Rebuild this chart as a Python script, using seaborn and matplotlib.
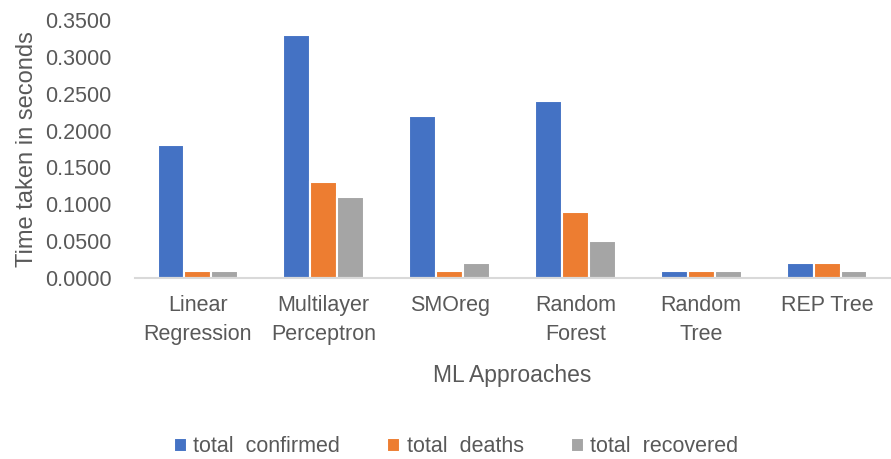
import pandas as pd
import matplotlib.pyplot as plt
import seaborn as sns

# data
methods = ["Linear\nRegression", "Multilayer\nPerceptron", "SMOreg",
           "Random\nForest", "Random\nTree", "REP Tree"]
series = ["total  confirmed", "total  deaths", "total  recovered"]
confirmed = [0.18, 0.33, 0.22, 0.24, 0.01, 0.02]
deaths = [0.01, 0.13, 0.01, 0.09, 0.01, 0.02]
recovered = [0.01, 0.11, 0.02, 0.05, 0.01, 0.01]

df = pd.DataFrame({
    "method": methods * 3,
    "series": [series[0]] * 6 + [series[1]] * 6 + [series[2]] * 6,
    "time": confirmed + deaths + recovered,
})

sns.set_style("white")
plt.rcParams["font.family"] = ["Liberation Sans", "DejaVu Sans"]

fig = plt.figure(figsize=(8.91, 4.59), dpi=100)
ax = fig.add_axes([135 / 891, 1 - 278 / 459, 755 / 891, 258 / 459])

palette = ["#4472C4", "#ED7D31", "#A5A5A5"]
sns.barplot(data=df, x="method", y="time", hue="series", palette=palette,
            width=0.64, edgecolor="white", linewidth=1.5, saturation=1,
            ax=ax)

ax.set_ylim(0, 0.35)
ax.set_yticks([i * 0.05 for i in range(8)])
ax.set_yticklabels([f"{i * 0.05:.4f}" for i in range(8)])
ax.tick_params(axis="both", labelsize=15.5, colors="#595959", length=0)
ax.tick_params(axis="x", pad=12)
ax.tick_params(axis="y", pad=17)
for lbl in ax.get_xticklabels():
    lbl.set_linespacing(1.5)
ax.set_xlabel("ML Approaches", fontsize=16.5, color="#595959", labelpad=14)
ax.set_ylabel("Time taken in seconds", fontsize=17, color="#595959", labelpad=5)
for s in ["top", "right", "left"]:
    ax.spines[s].set_visible(False)
ax.spines["bottom"].set_color("#D9D9D9")
ax.spines["bottom"].set_linewidth(1.5)

handles, labels = ax.get_legend_handles_labels()
ax.get_legend().remove()
leg = fig.legend(handles, labels, loc="center", bbox_to_anchor=(0.512, 1 - 447 / 459),
                 ncol=3, frameon=False, fontsize=15.5, handlelength=0.6,
                 handleheight=0.6, handletextpad=0.3, columnspacing=2.2)
for t in leg.get_texts():
    t.set_color("#595959")

fig.savefig("out.png", dpi=100)
